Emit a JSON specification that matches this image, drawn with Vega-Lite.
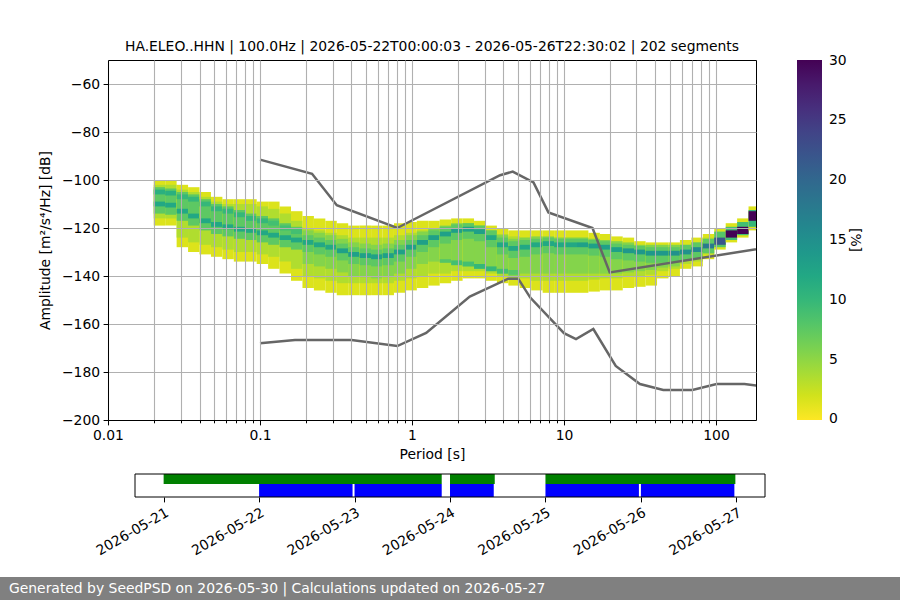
{
  "$schema": "https://vega.github.io/schema/vega-lite/v6.json",
  "width": 648,
  "height": 360,
  "autosize": {"type": "none"},
  "padding": {"left": 108, "top": 60, "right": 144, "bottom": 180},
  "background": "white",
  "title": {
    "text": "HA.ELEO..HHN | 100.0Hz | 2026-05-22T00:00:03 - 2026-05-26T22:30:02 | 202 segments",
    "anchor": "middle", "frame": "group", "font": "DejaVu Sans", "fontSize": 13.9,
    "fontWeight": "normal", "color": "black", "offset": 6
  },
  "config": {
    "font": "DejaVu Sans",
    "view": {"stroke": "black", "strokeWidth": 1},
    "axis": {
      "labelFont": "DejaVu Sans", "titleFont": "DejaVu Sans", "labelFontSize": 13.9, "titleFontSize": 13.9,
      "titleFontWeight": "normal", "labelColor": "black", "titleColor": "black", "tickColor": "black",
      "domainColor": "black", "tickSize": 4.9, "labelPadding": 3.5, "gridColor": "#b0b0b0", "gridWidth": 1.1
    },
    "legend": {"labelFont": "DejaVu Sans", "titleFont": "DejaVu Sans", "labelFontSize": 13.9, "titleFontSize": 13.9, "titleFontWeight": "normal", "labelColor": "black", "titleColor": "black"}
  },
  "datasets": {
    "psd": [
      {"a":0.02,"b":0.02378,"lo":-119,"hi":-100,"v":1.5},{"a":0.02,"b":0.02378,"lo":-116,"hi":-102,"v":3.5},{"a":0.02,"b":0.02378,"lo":-114,"hi":-103,"v":7.5},{"a":0.02,"b":0.02378,"lo":-106,"hi":-104,"v":11},{"a":0.02,"b":0.02378,"lo":-111,"hi":-109,"v":12},
      {"a":0.02378,"b":0.02828,"lo":-119,"hi":-100,"v":1.5},{"a":0.02378,"b":0.02828,"lo":-116,"hi":-102,"v":3.5},{"a":0.02378,"b":0.02828,"lo":-114.5,"hi":-103.5,"v":7.5},{"a":0.02378,"b":0.02828,"lo":-106.5,"hi":-104.5,"v":11},{"a":0.02378,"b":0.02828,"lo":-111.5,"hi":-109.5,"v":12},
      {"a":0.02828,"b":0.03364,"lo":-128,"hi":-102,"v":1.5},{"a":0.02828,"b":0.03364,"lo":-124,"hi":-104,"v":3.5},{"a":0.02828,"b":0.03364,"lo":-117,"hi":-105,"v":7.5},{"a":0.02828,"b":0.03364,"lo":-108,"hi":-106,"v":10},{"a":0.02828,"b":0.03364,"lo":-114,"hi":-112,"v":12},
      {"a":0.03364,"b":0.04,"lo":-130,"hi":-103,"v":1.5},{"a":0.03364,"b":0.04,"lo":-126,"hi":-105,"v":3.5},{"a":0.03364,"b":0.04,"lo":-119,"hi":-106,"v":7.5},{"a":0.03364,"b":0.04,"lo":-109,"hi":-107,"v":10},{"a":0.03364,"b":0.04,"lo":-116,"hi":-114,"v":12},
      {"a":0.04,"b":0.04757,"lo":-131,"hi":-105,"v":1.5},{"a":0.04,"b":0.04757,"lo":-127,"hi":-107,"v":3.5},{"a":0.04,"b":0.04757,"lo":-121,"hi":-108,"v":7.5},{"a":0.04,"b":0.04757,"lo":-111,"hi":-109,"v":10},{"a":0.04,"b":0.04757,"lo":-118,"hi":-116,"v":12},
      {"a":0.04757,"b":0.05657,"lo":-132,"hi":-107,"v":1.5},{"a":0.04757,"b":0.05657,"lo":-128,"hi":-109,"v":3.5},{"a":0.04757,"b":0.05657,"lo":-122.5,"hi":-110,"v":7.5},{"a":0.04757,"b":0.05657,"lo":-113,"hi":-111,"v":10},{"a":0.04757,"b":0.05657,"lo":-119.5,"hi":-117.5,"v":12},
      {"a":0.05657,"b":0.06727,"lo":-133,"hi":-108,"v":1.5},{"a":0.05657,"b":0.06727,"lo":-129,"hi":-110,"v":3.5},{"a":0.05657,"b":0.06727,"lo":-123.5,"hi":-111,"v":7.5},{"a":0.05657,"b":0.06727,"lo":-114,"hi":-112,"v":10},{"a":0.05657,"b":0.06727,"lo":-120.5,"hi":-118.5,"v":12},
      {"a":0.06727,"b":0.08,"lo":-134,"hi":-108,"v":1.5},{"a":0.06727,"b":0.08,"lo":-130,"hi":-110,"v":3.5},{"a":0.06727,"b":0.08,"lo":-124.5,"hi":-112.5,"v":7.5},{"a":0.06727,"b":0.08,"lo":-115.5,"hi":-113.5,"v":10},{"a":0.06727,"b":0.08,"lo":-121.5,"hi":-119.5,"v":12},
      {"a":0.08,"b":0.09514,"lo":-134,"hi":-108,"v":1.5},{"a":0.08,"b":0.09514,"lo":-130,"hi":-110,"v":3.5},{"a":0.08,"b":0.09514,"lo":-125,"hi":-114,"v":7.5},{"a":0.08,"b":0.09514,"lo":-117,"hi":-115,"v":10},{"a":0.08,"b":0.09514,"lo":-122,"hi":-120,"v":12},
      {"a":0.09514,"b":0.1131,"lo":-135,"hi":-109,"v":1.5},{"a":0.09514,"b":0.1131,"lo":-131,"hi":-111,"v":3.5},{"a":0.09514,"b":0.1131,"lo":-126,"hi":-115,"v":7.5},{"a":0.09514,"b":0.1131,"lo":-118,"hi":-116,"v":10},{"a":0.09514,"b":0.1131,"lo":-123,"hi":-121,"v":12},
      {"a":0.1131,"b":0.1345,"lo":-137,"hi":-109,"v":1.5},{"a":0.1131,"b":0.1345,"lo":-132,"hi":-112,"v":3.5},{"a":0.1131,"b":0.1345,"lo":-127,"hi":-116,"v":7.5},{"a":0.1131,"b":0.1345,"lo":-119,"hi":-117,"v":9},{"a":0.1131,"b":0.1345,"lo":-124,"hi":-122,"v":12},
      {"a":0.1345,"b":0.16,"lo":-139,"hi":-111,"v":1.5},{"a":0.1345,"b":0.16,"lo":-134,"hi":-114,"v":3.5},{"a":0.1345,"b":0.16,"lo":-128,"hi":-118,"v":7.5},{"a":0.1345,"b":0.16,"lo":-121,"hi":-119,"v":9},{"a":0.1345,"b":0.16,"lo":-125,"hi":-123,"v":12},
      {"a":0.16,"b":0.1903,"lo":-142,"hi":-113,"v":1.5},{"a":0.16,"b":0.1903,"lo":-137,"hi":-117,"v":3.5},{"a":0.16,"b":0.1903,"lo":-129,"hi":-119.5,"v":7.5},{"a":0.16,"b":0.1903,"lo":-122.5,"hi":-120.5,"v":9},{"a":0.16,"b":0.1903,"lo":-126,"hi":-124,"v":12},
      {"a":0.1903,"b":0.2263,"lo":-145,"hi":-115,"v":1.5},{"a":0.1903,"b":0.2263,"lo":-140,"hi":-120,"v":3.5},{"a":0.1903,"b":0.2263,"lo":-135,"hi":-121,"v":5.5},{"a":0.1903,"b":0.2263,"lo":-130,"hi":-123,"v":7.5},{"a":0.1903,"b":0.2263,"lo":-127,"hi":-125,"v":12},
      {"a":0.2263,"b":0.2691,"lo":-146,"hi":-116,"v":1.5},{"a":0.2263,"b":0.2691,"lo":-141,"hi":-121,"v":3.5},{"a":0.2263,"b":0.2691,"lo":-136,"hi":-122,"v":5.5},{"a":0.2263,"b":0.2691,"lo":-131,"hi":-124,"v":7.5},{"a":0.2263,"b":0.2691,"lo":-128,"hi":-126,"v":12},
      {"a":0.2691,"b":0.32,"lo":-147,"hi":-117,"v":1.5},{"a":0.2691,"b":0.32,"lo":-142,"hi":-122,"v":3.5},{"a":0.2691,"b":0.32,"lo":-137,"hi":-123,"v":5.5},{"a":0.2691,"b":0.32,"lo":-132,"hi":-125,"v":7.5},{"a":0.2691,"b":0.32,"lo":-129,"hi":-127,"v":12},
      {"a":0.32,"b":0.3805,"lo":-148,"hi":-118,"v":1.5},{"a":0.32,"b":0.3805,"lo":-143,"hi":-123,"v":3.5},{"a":0.32,"b":0.3805,"lo":-138.5,"hi":-124.5,"v":5.5},{"a":0.32,"b":0.3805,"lo":-133.5,"hi":-126.5,"v":7.5},{"a":0.32,"b":0.3805,"lo":-130.5,"hi":-128.5,"v":13},
      {"a":0.3805,"b":0.4525,"lo":-148,"hi":-119,"v":1.5},{"a":0.3805,"b":0.4525,"lo":-143,"hi":-124,"v":3.5},{"a":0.3805,"b":0.4525,"lo":-140,"hi":-126,"v":5.5},{"a":0.3805,"b":0.4525,"lo":-135,"hi":-128,"v":7.5},{"a":0.3805,"b":0.4525,"lo":-132,"hi":-130,"v":13},
      {"a":0.4525,"b":0.5382,"lo":-148,"hi":-119,"v":1.5},{"a":0.4525,"b":0.5382,"lo":-143,"hi":-124,"v":3.5},{"a":0.4525,"b":0.5382,"lo":-140.5,"hi":-126.5,"v":5.5},{"a":0.4525,"b":0.5382,"lo":-135.5,"hi":-128.5,"v":7.5},{"a":0.4525,"b":0.5382,"lo":-132.5,"hi":-130.5,"v":13},
      {"a":0.5382,"b":0.64,"lo":-148,"hi":-119,"v":1.5},{"a":0.5382,"b":0.64,"lo":-143,"hi":-124,"v":3.5},{"a":0.5382,"b":0.64,"lo":-141,"hi":-127,"v":5.5},{"a":0.5382,"b":0.64,"lo":-136,"hi":-129,"v":7.5},{"a":0.5382,"b":0.64,"lo":-133,"hi":-131,"v":13},
      {"a":0.64,"b":0.7611,"lo":-148,"hi":-119,"v":1.5},{"a":0.64,"b":0.7611,"lo":-143,"hi":-124,"v":3.5},{"a":0.64,"b":0.7611,"lo":-140.5,"hi":-126.5,"v":5.5},{"a":0.64,"b":0.7611,"lo":-135.5,"hi":-128.5,"v":7.5},{"a":0.64,"b":0.7611,"lo":-132.5,"hi":-130.5,"v":13},
      {"a":0.7611,"b":0.9051,"lo":-147,"hi":-118,"v":1.5},{"a":0.7611,"b":0.9051,"lo":-142,"hi":-123,"v":3.5},{"a":0.7611,"b":0.9051,"lo":-139,"hi":-125,"v":5.5},{"a":0.7611,"b":0.9051,"lo":-134,"hi":-127,"v":7.5},{"a":0.7611,"b":0.9051,"lo":-131,"hi":-129,"v":13},
      {"a":0.9051,"b":1.076,"lo":-146,"hi":-117.5,"v":1.5},{"a":0.9051,"b":1.076,"lo":-141,"hi":-122,"v":3.5},{"a":0.9051,"b":1.076,"lo":-137,"hi":-123,"v":5.5},{"a":0.9051,"b":1.076,"lo":-132,"hi":-125,"v":7.5},{"a":0.9051,"b":1.076,"lo":-129,"hi":-127,"v":13},
      {"a":1.076,"b":1.28,"lo":-145,"hi":-117,"v":1.5},{"a":1.076,"b":1.28,"lo":-140,"hi":-121,"v":3.5},{"a":1.076,"b":1.28,"lo":-135,"hi":-121.5,"v":5.5},{"a":1.076,"b":1.28,"lo":-130,"hi":-123,"v":7.5},{"a":1.076,"b":1.28,"lo":-127,"hi":-125,"v":13},
      {"a":1.28,"b":1.522,"lo":-144,"hi":-117,"v":1.5},{"a":1.28,"b":1.522,"lo":-139,"hi":-120.5,"v":3.5},{"a":1.28,"b":1.522,"lo":-134,"hi":-120,"v":5.5},{"a":1.28,"b":1.522,"lo":-128,"hi":-121,"v":7.5},{"a":1.28,"b":1.522,"lo":-125,"hi":-123,"v":13},
      {"a":1.522,"b":1.81,"lo":-143,"hi":-116.5,"v":1.5},{"a":1.522,"b":1.81,"lo":-139,"hi":-119.5,"v":3.5},{"a":1.522,"b":1.81,"lo":-134,"hi":-119,"v":5.5},{"a":1.522,"b":1.81,"lo":-126.5,"hi":-119.5,"v":7.5},{"a":1.522,"b":1.81,"lo":-134.5,"hi":-133,"v":8},{"a":1.522,"b":1.81,"lo":-123.5,"hi":-121.5,"v":13},
      {"a":1.81,"b":2.153,"lo":-142,"hi":-116,"v":1.5},{"a":1.81,"b":2.153,"lo":-138,"hi":-118.5,"v":3.5},{"a":1.81,"b":2.153,"lo":-135,"hi":-118,"v":5.5},{"a":1.81,"b":2.153,"lo":-125,"hi":-118.5,"v":7.5},{"a":1.81,"b":2.153,"lo":-135.5,"hi":-133.5,"v":9},{"a":1.81,"b":2.153,"lo":-122,"hi":-120,"v":13},
      {"a":2.153,"b":2.56,"lo":-141,"hi":-116,"v":1.5},{"a":2.153,"b":2.56,"lo":-138,"hi":-118.5,"v":3.5},{"a":2.153,"b":2.56,"lo":-136,"hi":-118,"v":5.5},{"a":2.153,"b":2.56,"lo":-124.5,"hi":-118,"v":7.5},{"a":2.153,"b":2.56,"lo":-136,"hi":-134,"v":9},{"a":2.153,"b":2.56,"lo":-121.5,"hi":-119.5,"v":13},
      {"a":2.56,"b":3.044,"lo":-141,"hi":-117,"v":1.5},{"a":2.56,"b":3.044,"lo":-138,"hi":-119,"v":3.5},{"a":2.56,"b":3.044,"lo":-137,"hi":-119,"v":5.5},{"a":2.56,"b":3.044,"lo":-125.5,"hi":-119,"v":7.5},{"a":2.56,"b":3.044,"lo":-137,"hi":-135,"v":10},{"a":2.56,"b":3.044,"lo":-122.5,"hi":-120.5,"v":13},
      {"a":3.044,"b":3.62,"lo":-142,"hi":-119,"v":1.5},{"a":3.044,"b":3.62,"lo":-139,"hi":-121.5,"v":3.5},{"a":3.044,"b":3.62,"lo":-138,"hi":-121,"v":5.5},{"a":3.044,"b":3.62,"lo":-128,"hi":-121,"v":7.5},{"a":3.044,"b":3.62,"lo":-138,"hi":-136,"v":10},{"a":3.044,"b":3.62,"lo":-125,"hi":-123,"v":12},
      {"a":3.62,"b":4.305,"lo":-143,"hi":-120,"v":1.5},{"a":3.62,"b":4.305,"lo":-140,"hi":-122.5,"v":3.5},{"a":3.62,"b":4.305,"lo":-139,"hi":-123,"v":5.5},{"a":3.62,"b":4.305,"lo":-131,"hi":-124,"v":7.5},{"a":3.62,"b":4.305,"lo":-139,"hi":-137,"v":9},{"a":3.62,"b":4.305,"lo":-128,"hi":-126,"v":12},
      {"a":4.305,"b":5.12,"lo":-144,"hi":-121,"v":1.5},{"a":4.305,"b":5.12,"lo":-141,"hi":-123.5,"v":3.5},{"a":4.305,"b":5.12,"lo":-140,"hi":-124.5,"v":5.5},{"a":4.305,"b":5.12,"lo":-132.5,"hi":-125.5,"v":7.5},{"a":4.305,"b":5.12,"lo":-139.5,"hi":-137.5,"v":8},{"a":4.305,"b":5.12,"lo":-129.5,"hi":-127.5,"v":12},
      {"a":5.12,"b":6.089,"lo":-145,"hi":-121,"v":1.5},{"a":5.12,"b":6.089,"lo":-141,"hi":-124,"v":3.5},{"a":5.12,"b":6.089,"lo":-139,"hi":-124,"v":5.5},{"a":5.12,"b":6.089,"lo":-132,"hi":-125,"v":7.5},{"a":5.12,"b":6.089,"lo":-129,"hi":-127,"v":12},
      {"a":6.089,"b":7.241,"lo":-146,"hi":-121,"v":1.5},{"a":6.089,"b":7.241,"lo":-142,"hi":-124,"v":3.5},{"a":6.089,"b":7.241,"lo":-139,"hi":-123.5,"v":5.5},{"a":6.089,"b":7.241,"lo":-131,"hi":-124.5,"v":7.5},{"a":6.089,"b":7.241,"lo":-128,"hi":-126,"v":12},
      {"a":7.241,"b":8.611,"lo":-147,"hi":-121,"v":1.5},{"a":7.241,"b":8.611,"lo":-142,"hi":-124,"v":3.5},{"a":7.241,"b":8.611,"lo":-139,"hi":-123.5,"v":5.5},{"a":7.241,"b":8.611,"lo":-130.5,"hi":-124,"v":7.5},{"a":7.241,"b":8.611,"lo":-127.5,"hi":-125.5,"v":12},
      {"a":8.611,"b":10.24,"lo":-147,"hi":-121,"v":1.5},{"a":8.611,"b":10.24,"lo":-142,"hi":-124,"v":3.5},{"a":8.611,"b":10.24,"lo":-139,"hi":-124,"v":5.5},{"a":8.611,"b":10.24,"lo":-131,"hi":-124.5,"v":7.5},{"a":8.611,"b":10.24,"lo":-128,"hi":-126,"v":12},
      {"a":10.24,"b":12.18,"lo":-147,"hi":-121,"v":1.5},{"a":10.24,"b":12.18,"lo":-142,"hi":-124,"v":3.5},{"a":10.24,"b":12.18,"lo":-139,"hi":-124,"v":5.5},{"a":10.24,"b":12.18,"lo":-131,"hi":-124.5,"v":7.5},{"a":10.24,"b":12.18,"lo":-128,"hi":-126,"v":12},
      {"a":12.18,"b":14.48,"lo":-147,"hi":-121,"v":1.5},{"a":12.18,"b":14.48,"lo":-142,"hi":-124,"v":3.5},{"a":12.18,"b":14.48,"lo":-139,"hi":-124,"v":5.5},{"a":12.18,"b":14.48,"lo":-131,"hi":-124.5,"v":7.5},{"a":12.18,"b":14.48,"lo":-128,"hi":-126,"v":13},
      {"a":14.48,"b":17.22,"lo":-146.5,"hi":-122,"v":1.5},{"a":14.48,"b":17.22,"lo":-141.5,"hi":-124.5,"v":3.5},{"a":14.48,"b":17.22,"lo":-139,"hi":-124.5,"v":5.5},{"a":14.48,"b":17.22,"lo":-131.5,"hi":-125,"v":7.5},{"a":14.48,"b":17.22,"lo":-128.5,"hi":-126.5,"v":13},
      {"a":17.22,"b":20.48,"lo":-146,"hi":-122.5,"v":1.5},{"a":17.22,"b":20.48,"lo":-141,"hi":-125,"v":3.5},{"a":17.22,"b":20.48,"lo":-139,"hi":-125,"v":5.5},{"a":17.22,"b":20.48,"lo":-132,"hi":-125.5,"v":7.5},{"a":17.22,"b":20.48,"lo":-129,"hi":-127,"v":13},
      {"a":20.48,"b":24.36,"lo":-146,"hi":-123.5,"v":1.5},{"a":20.48,"b":24.36,"lo":-141,"hi":-126,"v":3.5},{"a":20.48,"b":24.36,"lo":-139,"hi":-125.5,"v":5.5},{"a":20.48,"b":24.36,"lo":-133,"hi":-126.5,"v":7.5},{"a":20.48,"b":24.36,"lo":-130,"hi":-128,"v":13},
      {"a":24.36,"b":28.96,"lo":-145,"hi":-124,"v":1.5},{"a":24.36,"b":28.96,"lo":-140,"hi":-126.5,"v":3.5},{"a":24.36,"b":28.96,"lo":-138.5,"hi":-126,"v":5.5},{"a":24.36,"b":28.96,"lo":-133.5,"hi":-127,"v":7.5},{"a":24.36,"b":28.96,"lo":-130.5,"hi":-128.5,"v":14},
      {"a":28.96,"b":34.44,"lo":-144.5,"hi":-125.5,"v":1.5},{"a":28.96,"b":34.44,"lo":-140,"hi":-127.5,"v":3.5},{"a":28.96,"b":34.44,"lo":-138,"hi":-127,"v":5.5},{"a":28.96,"b":34.44,"lo":-134,"hi":-127.5,"v":7.5},{"a":28.96,"b":34.44,"lo":-131,"hi":-129,"v":14},
      {"a":34.44,"b":40.96,"lo":-144,"hi":-126,"v":1.5},{"a":34.44,"b":40.96,"lo":-139.5,"hi":-128,"v":3.5},{"a":34.44,"b":40.96,"lo":-137.5,"hi":-127,"v":5.5},{"a":34.44,"b":40.96,"lo":-134.5,"hi":-128,"v":7.5},{"a":34.44,"b":40.96,"lo":-131.5,"hi":-129.5,"v":14},
      {"a":40.96,"b":48.71,"lo":-141,"hi":-126,"v":1.5},{"a":40.96,"b":48.71,"lo":-138,"hi":-128,"v":3.5},{"a":40.96,"b":48.71,"lo":-136.5,"hi":-127,"v":5.5},{"a":40.96,"b":48.71,"lo":-134.5,"hi":-128,"v":7.5},{"a":40.96,"b":48.71,"lo":-131.5,"hi":-129.5,"v":14},
      {"a":48.71,"b":57.93,"lo":-140,"hi":-126,"v":1.5},{"a":48.71,"b":57.93,"lo":-137,"hi":-128,"v":3.5},{"a":48.71,"b":57.93,"lo":-136,"hi":-127,"v":5.5},{"a":48.71,"b":57.93,"lo":-134,"hi":-128,"v":7.5},{"a":48.71,"b":57.93,"lo":-131.5,"hi":-129.5,"v":15},
      {"a":57.93,"b":68.89,"lo":-137,"hi":-125,"v":1.5},{"a":57.93,"b":68.89,"lo":-135,"hi":-127,"v":3.5},{"a":57.93,"b":68.89,"lo":-133.5,"hi":-127,"v":7.5},{"a":57.93,"b":68.89,"lo":-131,"hi":-129,"v":15},
      {"a":68.89,"b":81.92,"lo":-136,"hi":-124,"v":1.5},{"a":68.89,"b":81.92,"lo":-134,"hi":-126,"v":3.5},{"a":68.89,"b":81.92,"lo":-132.5,"hi":-126,"v":7.5},{"a":68.89,"b":81.92,"lo":-130,"hi":-128,"v":16},
      {"a":81.92,"b":97.42,"lo":-133,"hi":-122.5,"v":1.5},{"a":81.92,"b":97.42,"lo":-131,"hi":-124,"v":3.5},{"a":81.92,"b":97.42,"lo":-130.5,"hi":-124.5,"v":7.5},{"a":81.92,"b":97.42,"lo":-128.5,"hi":-126.5,"v":18},
      {"a":97.42,"b":115.9,"lo":-129,"hi":-120,"v":1.5},{"a":97.42,"b":115.9,"lo":-128,"hi":-121.5,"v":8},{"a":97.42,"b":115.9,"lo":-127,"hi":-124,"v":22},
      {"a":115.9,"b":137.8,"lo":-126,"hi":-118,"v":1.5},{"a":115.9,"b":137.8,"lo":-125,"hi":-119.5,"v":9},{"a":115.9,"b":137.8,"lo":-124,"hi":-121,"v":30},
      {"a":137.8,"b":163.8,"lo":-124,"hi":-116,"v":1.5},{"a":137.8,"b":163.8,"lo":-123,"hi":-117.5,"v":9},{"a":137.8,"b":163.8,"lo":-122.5,"hi":-119.5,"v":30},
      {"a":163.8,"b":194.8,"lo":-121,"hi":-111,"v":1.5},{"a":163.8,"b":194.8,"lo":-119.5,"hi":-112.5,"v":10},{"a":163.8,"b":194.8,"lo":-117,"hi":-113,"v":30}
    ],
    "models": [
      {"m":"NHNM","p":0.1,"db":-91.5},{"m":"NHNM","p":0.22,"db":-97.4},{"m":"NHNM","p":0.32,"db":-110.5},{"m":"NHNM","p":0.8,"db":-120.0},
      {"m":"NHNM","p":3.8,"db":-98.0},{"m":"NHNM","p":4.6,"db":-96.5},{"m":"NHNM","p":6.3,"db":-101.0},{"m":"NHNM","p":7.9,"db":-113.5},
      {"m":"NHNM","p":15.4,"db":-120.0},{"m":"NHNM","p":20,"db":-138.5},{"m":"NHNM","p":354.8,"db":-126.0},
      {"m":"NLNM","p":0.1,"db":-168.0},{"m":"NLNM","p":0.17,"db":-166.7},{"m":"NLNM","p":0.4,"db":-166.7},{"m":"NLNM","p":0.8,"db":-169.2},
      {"m":"NLNM","p":1.24,"db":-163.7},{"m":"NLNM","p":2.4,"db":-148.6},{"m":"NLNM","p":4.3,"db":-141.1},{"m":"NLNM","p":5.0,"db":-141.1},
      {"m":"NLNM","p":6.0,"db":-149.0},{"m":"NLNM","p":10,"db":-163.8},{"m":"NLNM","p":12,"db":-166.3},{"m":"NLNM","p":15.6,"db":-162.1},
      {"m":"NLNM","p":21.9,"db":-177.5},{"m":"NLNM","p":31.6,"db":-185.0},{"m":"NLNM","p":45,"db":-187.5},{"m":"NLNM","p":70,"db":-187.5},
      {"m":"NLNM","p":101,"db":-185.0},{"m":"NLNM","p":154,"db":-185.0},{"m":"NLNM","p":328,"db":-187.5}
    ],
    "spans": [
      {"k":"data","s":"2026-05-21T00:00:00","e":"2026-05-23T21:55:00"},
      {"k":"data","s":"2026-05-24T00:00:00","e":"2026-05-24T11:15:00"},
      {"k":"data","s":"2026-05-25T00:00:00","e":"2026-05-26T23:45:00"},
      {"k":"psd","s":"2026-05-22T00:00:00","e":"2026-05-22T23:30:00"},
      {"k":"psd","s":"2026-05-23T00:00:00","e":"2026-05-23T21:55:00"},
      {"k":"psd","s":"2026-05-24T00:00:00","e":"2026-05-24T11:00:00"},
      {"k":"psd","s":"2026-05-25T00:00:00","e":"2026-05-25T23:30:00"},
      {"k":"psd","s":"2026-05-26T00:00:00","e":"2026-05-26T23:30:00"}
    ]
  },
  "layer": [
    {
      "data": {"name": "psd"},
      "layer": [
        {
          "mark": {"type": "rect", "clip": true},
          "encoding": {
            "x": {
              "field": "a", "type": "quantitative",
              "scale": {"type": "log", "domain": [0.01, 183.4], "nice": false},
              "axis": {
                "title": "Period [s]", "titlePadding": 5, "zindex": 1, "grid": true, "labelFlush": false, "labelOverlap": false,
                "values": [0.01,0.02,0.03,0.04,0.05,0.06,0.07,0.08,0.09,0.1,0.2,0.3,0.4,0.5,0.6,0.7,0.8,0.9,1,2,3,4,5,6,7,8,9,10,20,30,40,50,60,70,80,90,100],
                "labelExpr": "indexof([0.01,0.1,1,10,100], datum.value) >= 0 ? toString(datum.value) : ''",
                "tickSize": {"condition": {"test": "indexof([0.01,0.1,1,10,100], datum.value) >= 0", "value": 4.9}, "value": 2.8}
              }
            },
            "x2": {"field": "b"},
            "y": {
              "field": "lo", "type": "quantitative",
              "scale": {"domain": [-200, -50], "nice": false, "zero": false},
              "axis": {
                "title": "Amplitude [m²/s⁴/Hz] [dB]", "titlePadding": 9, "zindex": 1, "grid": true, "labelFlush": false,
                "values": [-200,-180,-160,-140,-120,-100,-80,-60], "format": "d"
              }
            },
            "y2": {"field": "hi"},
            "color": {
              "field": "v", "type": "quantitative",
              "scale": {"scheme": "viridis", "reverse": true, "domain": [-0.05, 30.05]},
              "legend": {
                "orient": "none", "legendX": 689, "legendY": 0, "direction": "vertical",
                "gradientLength": 360, "gradientThickness": 25, "gradientStrokeWidth": 0,
                "values": [0,5,10,15,20,25,30], "labelOffset": 7, "padding": 0,
                "title": "[%]", "titleOrient": "right", "titleAngle": 270, "titleAnchor": "middle",
                "titlePadding": 8, "titleBaseline": "middle"
              }
            }
          }
        },
        {
          "data": {"name": "models"},
          "mark": {"type": "line", "clip": true, "color": "#666666", "strokeWidth": 2.5},
          "encoding": {
            "x": {"field": "p", "type": "quantitative"},
            "y": {"field": "db", "type": "quantitative"},
            "detail": {"field": "m"}
          }
        }
      ]
    },
    {
      "data": {"name": "spans"},
      "layer": [
        {
          "transform": [{"filter": "datum.k == 'psd'"}],
          "mark": {"type": "rect", "color": "#0000ff"},
          "encoding": {
            "x": {
              "field": "s", "type": "temporal",
              "scale": {
                "domain": [{"year": 2026, "month": 5, "date": 20, "hours": 16, "minutes": 48}, {"year": 2026, "month": 5, "date": 27, "hours": 7, "minutes": 12}],
                "range": [27, 657]
              },
              "axis": {
                "orient": "bottom", "offset": 77, "title": null, "domain": false, "grid": false,
                "values": [
                  {"year": 2026, "month": 5, "date": 21}, {"year": 2026, "month": 5, "date": 22}, {"year": 2026, "month": 5, "date": 23},
                  {"year": 2026, "month": 5, "date": 24}, {"year": 2026, "month": 5, "date": 25}, {"year": 2026, "month": 5, "date": 26},
                  {"year": 2026, "month": 5, "date": 27}
                ],
                "format": "%Y-%m-%d", "labelAngle": -30, "labelAlign": "right", "labelBaseline": "top", "labelFlush": false
              }
            },
            "x2": {"field": "e"},
            "y": {"datum": 0, "type": "quantitative", "scale": {"domain": [0, 1], "range": [437, 414]}, "axis": null},
            "y2": {"datum": 0.565}
          }
        },
        {
          "transform": [{"filter": "datum.k == 'data'"}],
          "mark": {"type": "rect", "color": "#008000"},
          "encoding": {
            "x": {"field": "s", "type": "temporal"},
            "x2": {"field": "e"},
            "y": {"datum": 0.565, "type": "quantitative"},
            "y2": {"datum": 1}
          }
        },
        {
          "data": {"values": [{}]},
          "mark": {"type": "rect", "filled": false, "stroke": "black", "strokeWidth": 1},
          "encoding": {
            "x": {"datum": {"year": 2026, "month": 5, "date": 20, "hours": 16, "minutes": 48}, "type": "temporal"},
            "x2": {"datum": {"year": 2026, "month": 5, "date": 27, "hours": 7, "minutes": 12}},
            "y": {"datum": 0, "type": "quantitative"},
            "y2": {"datum": 1}
          }
        }
      ]
    },
    {
      "data": {"values": [{"t": "Generated by SeedPSD on 2026-05-30 | Calculations updated on 2026-05-27"}]},
      "layer": [
        {
          "mark": {"type": "rect", "color": "#808080"},
          "encoding": {
            "x": {"datum": 0, "type": "quantitative", "scale": {"domain": [0, 1], "range": [-108, 792]}, "axis": null},
            "x2": {"datum": 1},
            "y": {"datum": 0, "type": "quantitative", "scale": {"domain": [0, 1], "range": [540, 517]}, "axis": null},
            "y2": {"datum": 1}
          }
        },
        {
          "mark": {"type": "text", "align": "left", "baseline": "middle", "color": "white", "fontSize": 13.9, "font": "DejaVu Sans"},
          "encoding": {
            "x": {"datum": 0.01, "type": "quantitative"},
            "y": {"datum": 0.5, "type": "quantitative"},
            "text": {"field": "t"}
          }
        }
      ]
    }
  ],
  "resolve": {
    "scale": {"x": "independent", "y": "independent", "color": "independent"},
    "axis": {"x": "independent", "y": "independent"}
  }
}
